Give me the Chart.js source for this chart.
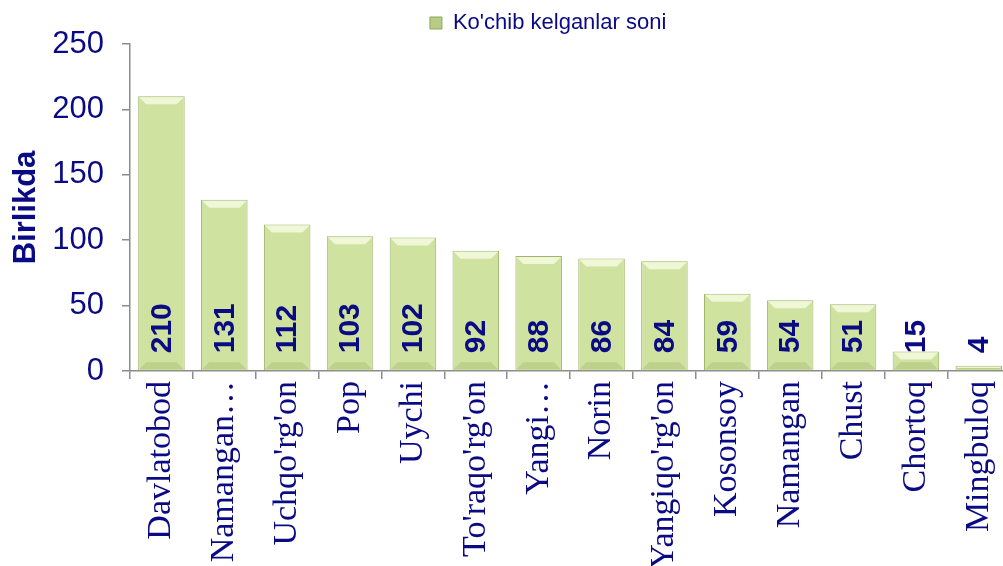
<!DOCTYPE html>
<html>
<head>
    <title>Ko'chib kelganlar soni</title>
    <script src="https://cdn.jsdelivr.net/npm/chart.js"></script>
    <style>
        body {
            margin: 0;
            background: #ffffff;
            overflow: hidden;
        }

        .chart-container {
            position: relative;
            width: 1022px;
            height: 566px;
        }
    </style>
</head>
<body>
    <div class="chart-container">
        <canvas id="migrationChart"></canvas>
    </div>

    <script>
        // Data
        const districts = ['Davlatobod', 'Namangan…', "Uchqo'rg'on", 'Pop', 'Uychi', "To'raqo'rg'on", 'Yangi…',
            'Norin', "Yangiqo'rg'on", 'Kosonsoy', 'Namangan', 'Chust', 'Chortoq', 'Mingbuloq'];
        const arrivals = [210, 131, 112, 103, 102, 92, 88, 86, 84, 59, 54, 51, 15, 4];
        const yTicks = [0, 50, 100, 150, 200, 250];

        const navy = '#0a0a84';
        const axisGray = '#8c8c8c';

        // Light green bar with a soft bevel look
        function barFill(context) {
            const bar = context.element;
            const chart = context.chart;
            if (!bar || bar.x === undefined || !chart.chartArea) return '#cfe2a0';
            const half = bar.width / 2;
            const g = chart.ctx.createLinearGradient(bar.x - half, 0, bar.x + half, 0);
            g.addColorStop(0, '#bccf88');
            g.addColorStop(0.12, '#d3e5a6');
            g.addColorStop(0.5, '#d7e8ab');
            g.addColorStop(0.88, '#cfe1a1');
            g.addColorStop(1, '#a9bd74');
            return g;
        }

        // Bevel highlight on the top of each bar
        const bevelPlugin = {
            id: 'bevel',
            afterDatasetDraw(chart) {
                const ctx = chart.ctx;
                chart.getDatasetMeta(0).data.forEach(bar => {
                    const half = bar.width / 2;
                    const h = bar.base - bar.y;
                    const d = Math.min(8, h / 2);
                    if (d < 2) return;
                    ctx.save();
                    ctx.fillStyle = 'rgba(246, 252, 228, 0.8)';
                    ctx.beginPath();
                    ctx.moveTo(bar.x - half + 1, bar.y + 1);
                    ctx.lineTo(bar.x + half - 1, bar.y + 1);
                    ctx.lineTo(bar.x + half - d, bar.y + d);
                    ctx.lineTo(bar.x - half + d, bar.y + d);
                    ctx.closePath();
                    ctx.fill();
                    ctx.fillStyle = 'rgba(150, 170, 100, 0.3)';
                    ctx.beginPath();
                    ctx.moveTo(bar.x - half + 1, bar.base - 1);
                    ctx.lineTo(bar.x + half - 1, bar.base - 1);
                    ctx.lineTo(bar.x + half - d, bar.base - d);
                    ctx.lineTo(bar.x - half + d, bar.base - d);
                    ctx.closePath();
                    ctx.fill();
                    ctx.restore();
                });
            }
        };

        // Value labels, rotated, sitting at the base of each bar
        const valueLabels = {
            id: 'valueLabels',
            afterDatasetsDraw(chart) {
                const ctx = chart.ctx;
                const meta = chart.getDatasetMeta(0);
                ctx.save();
                ctx.fillStyle = navy;
                ctx.font = 'bold 30px "Liberation Sans", Arial, sans-serif';
                ctx.textAlign = 'left';
                ctx.textBaseline = 'middle';
                meta.data.forEach((bar, i) => {
                    ctx.save();
                    ctx.translate(bar.x + 1, bar.base - 17);
                    ctx.rotate(-Math.PI / 2);
                    ctx.fillText(String(arrivals[i]), 0, 0);
                    ctx.restore();
                });
                ctx.restore();
            }
        };

        // The legend in the original sits a little left of the plot centre
        const legendShift = {
            id: 'legendShift',
            afterLayout(chart) {
                if (chart.legend) {
                    chart.legend.left -= 22;
                    chart.legend.right -= 22;
                }
            }
        };

        const ctx = document.getElementById('migrationChart').getContext('2d');
        new Chart(ctx, {
            type: 'bar',
            data: {
                labels: districts,
                datasets: [{
                    label: "Ko'chib kelganlar soni",
                    data: arrivals,
                    backgroundColor: barFill,
                    borderColor: '#9fb56a',
                    borderWidth: 1,
                    barPercentage: 0.74,
                    categoryPercentage: 1
                }]
            },
            options: {
                responsive: true,
                maintainAspectRatio: false,
                animation: false,
                layout: {
                    padding: { top: 0, right: 0, left: 0, bottom: 0 }
                },
                plugins: {
                    tooltip: { enabled: false },
                    legend: {
                        display: true,
                        position: 'top',
                        align: 'center',
                        fullSize: false,
                        labels: {
                            color: navy,
                            font: { family: '"Liberation Sans", Arial, sans-serif', size: 22 },
                            boxWidth: 12,
                            boxHeight: 12,
                            padding: 12,
                            generateLabels: () => [{
                                text: "Ko'chib kelganlar soni",
                                fillStyle: '#b9cc86',
                                strokeStyle: '#8fa65a',
                                lineWidth: 1,
                                fontColor: navy
                            }]
                        }
                    }
                },
                scales: {
                    x: {
                        offset: true,
                        border: { color: axisGray, width: 1.5 },
                        grid: {
                            offset: true,
                            drawOnChartArea: false,
                            drawTicks: true,
                            tickLength: 8,
                            color: axisGray,
                            lineWidth: 1.5
                        },
                        ticks: {
                            autoSkip: false,
                            minRotation: 90,
                            maxRotation: 90,
                            padding: 2,
                            color: navy,
                            font: { family: '"Liberation Serif", "Times New Roman", serif', size: 34 }
                        },
                        afterFit(scale) {
                            scale.height = 195;
                        }
                    },
                    y: {
                        min: 0,
                        max: 250,
                        border: { color: axisGray, width: 1.5 },
                        grid: {
                            drawOnChartArea: false,
                            tickLength: 8,
                            color: axisGray,
                            lineWidth: 1.5
                        },
                        afterBuildTicks(scale) {
                            scale.ticks = yTicks.map(v => ({ value: v }));
                        },
                        ticks: {
                            padding: 18,
                            color: navy,
                            font: { family: '"Liberation Sans", Arial, sans-serif', size: 31 }
                        },
                        title: {
                            display: true,
                            text: 'Birlikda',
                            color: navy,
                            padding: { top: 8, bottom: 0 },
                            font: { family: '"Liberation Sans", Arial, sans-serif', size: 31, weight: 'bold' }
                        },
                        afterFit(scale) {
                            scale.width = 130;
                        }
                    }
                }
            },
            plugins: [bevelPlugin, valueLabels, legendShift]
        });
    </script>
</body>
</html>
